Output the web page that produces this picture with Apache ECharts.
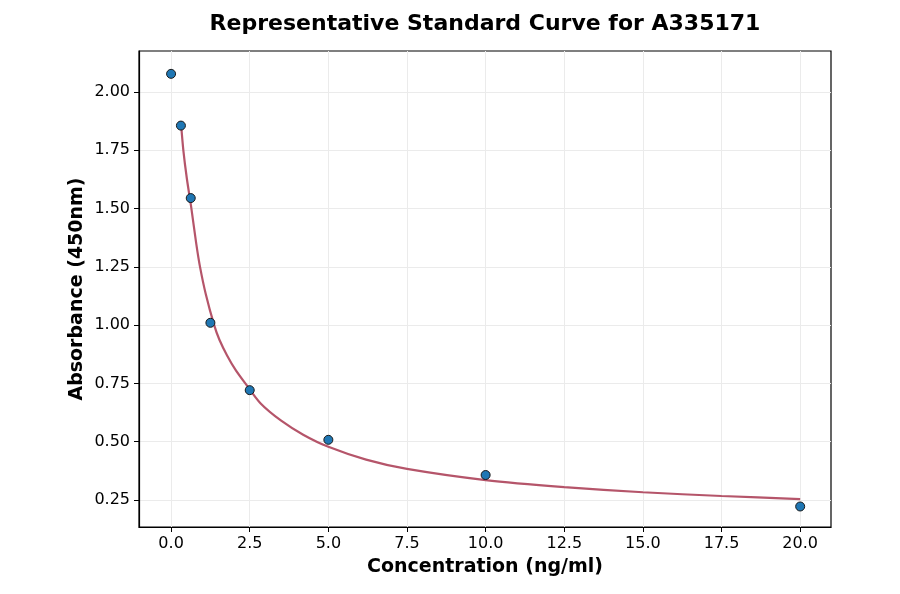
<!DOCTYPE html>
<html>
<head>
<meta charset="utf-8">
<script src="https://cdn.jsdelivr.net/npm/echarts@6/dist/echarts.min.js"></script>
<style>html,body{margin:0;padding:0;background:#fff;}#c{width:900px;height:594px;}</style>
</head>
<body>
<div id="c"></div>
<script>
// Measured standards
const concentrations = [0, 0.3125, 0.625, 1.25, 2.5, 5, 10, 20];
const absorbances = [2.078, 1.856, 1.545, 1.010, 0.721, 0.508, 0.357, 0.222];
// Fitted curve
const curveX = [0.3125, 0.39, 0.5, 0.646, 0.8, 0.92, 1.1, 1.37, 1.54, 1.78, 2.05, 2.36, 2.84, 3.5, 4.2, 5, 6.2, 7.5, 10, 12.5, 15, 17.5, 20];
const curveY = [1.87, 1.75, 1.63, 1.50, 1.35, 1.25, 1.135, 1.00, 0.936, 0.87, 0.808, 0.75, 0.665, 0.59, 0.53, 0.478, 0.423, 0.383, 0.335, 0.305, 0.283, 0.267, 0.254];
// Tick labels
const xTicks = [0, 2.5, 5, 7.5, 10, 12.5, 15, 17.5, 20];
const yTicks = [0.25, 0.5, 0.75, 1.0, 1.25, 1.5, 1.75, 2.0];

const font = 'DejaVu Sans';
const chart = echarts.init(document.getElementById('c'), null, {renderer: 'canvas'});
chart.setOption({
  animation: false,
  backgroundColor: '#ffffff',
  title: {
    text: 'Representative Standard Curve for A335171',
    left: 480, top: 8, textAlign: 'center',
    textStyle: {fontFamily: font, fontSize: 22, fontWeight: 'bold', color: '#000'}
  },
  grid: {left: 139, right: 69, top: 51, bottom: 67, show: true, borderColor: '#000', borderWidth: 1.2, backgroundColor: 'transparent'},
  xAxis: {
    type: 'value', min: -1.02, max: 20.98,
    name: 'Concentration (ng/ml)', nameLocation: 'middle', nameGap: 31, nameMoveOverlap: false,
    nameTextStyle: {fontFamily: font, fontSize: 19, fontWeight: 'bold', color: '#000'},
    axisLine: {show: true, onZero: false, lineStyle: {color: '#000', width: 1.2}},
    axisTick: {show: true, length: 5, customValues: xTicks, lineStyle: {color: '#000', width: 1}},
    axisLabel: {customValues: xTicks, fontFamily: font, fontSize: 16, color: '#000', margin: 9, formatter: v => v.toFixed(1)},
    splitLine: {show: true, lineStyle: {color: '#ebebeb', width: 1}}
  },
  yAxis: {
    type: 'value', min: 0.134, max: 2.176,
    name: 'Absorbance (450nm)', nameLocation: 'middle', nameGap: 52, nameMoveOverlap: false,
    nameTextStyle: {fontFamily: font, fontSize: 19, fontWeight: 'bold', color: '#000'},
    axisLine: {show: true, onZero: false, lineStyle: {color: '#000', width: 1.2}},
    axisTick: {show: true, length: 5, customValues: yTicks, lineStyle: {color: '#000', width: 1}},
    axisLabel: {customValues: yTicks, fontFamily: font, fontSize: 16, color: '#000', margin: 9, formatter: v => v.toFixed(2)},
    splitLine: {show: true, lineStyle: {color: '#ebebeb', width: 1}}
  },
  series: [
    {
      type: 'line',
      data: curveX.map((x, i) => [x, curveY[i]]),
      smooth: 0.25,
      showSymbol: false,
      lineStyle: {color: '#b5556a', width: 2.2},
      z: 2
    },
    {
      type: 'scatter',
      data: concentrations.map((x, i) => [x, absorbances[i]]),
      symbol: 'circle', symbolSize: 9,
      itemStyle: {color: '#1f77b4', borderColor: '#1a1a1a', borderWidth: 1, opacity: 1},
      z: 3
    }
  ]
});
</script>
</body>
</html>
